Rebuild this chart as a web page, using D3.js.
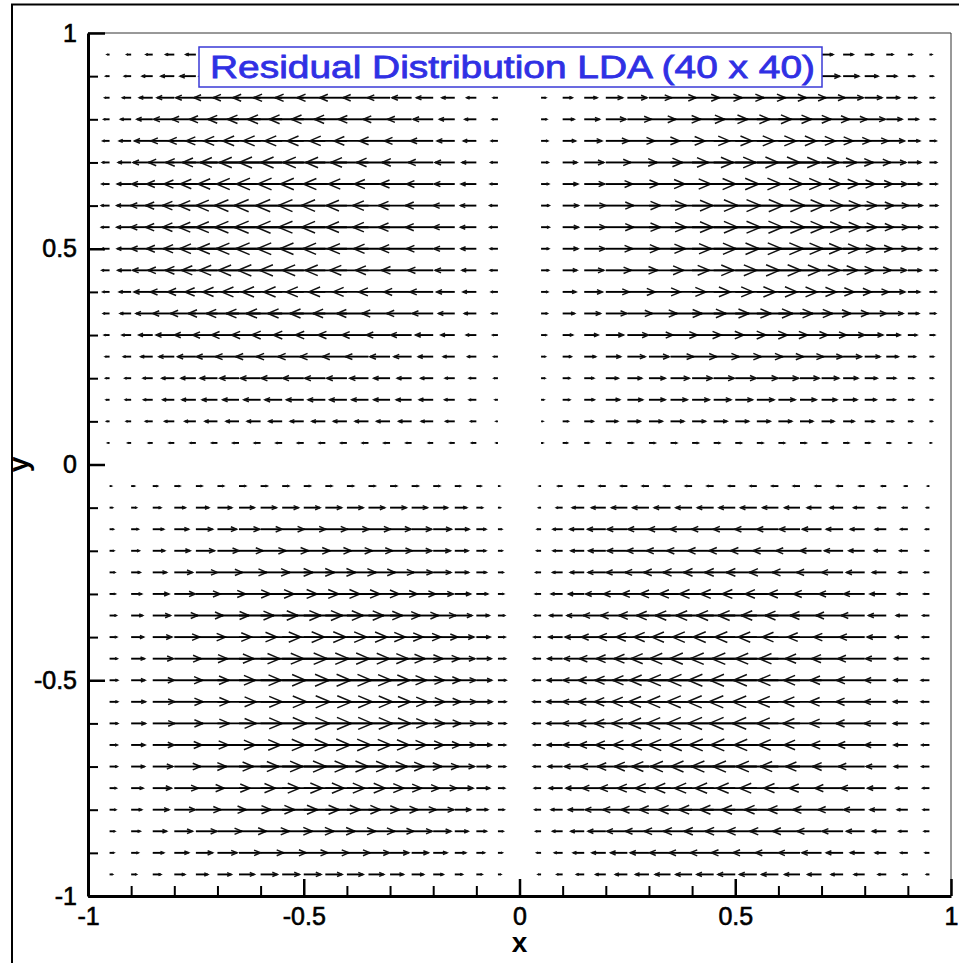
<!DOCTYPE html>
<html>
<head>
<meta charset="utf-8">
<script src="https://cdnjs.cloudflare.com/ajax/libs/d3/7.8.5/d3.min.js"></script>
<style>
body { margin:0; background:#fff; }
svg { display:block; }
</style>
</head>
<body>
<div id="chart"></div>
<script>
// grid nodes (40 x 40 cells -> interior nodes every 0.05)
var xNodes = [-0.95,-0.9,-0.85,-0.8,-0.75,-0.7,-0.65,-0.6,-0.55,-0.5,-0.45,-0.4,-0.35,-0.3,-0.25,-0.2,-0.15,-0.1,-0.05,0,
  0.05,0.1,0.15,0.2,0.25,0.3,0.35,0.4,0.45,0.5,0.55,0.6,0.65,0.7,0.75,0.8,0.85,0.9,0.95];
var yNodes = [0.95,0.9,0.85,0.8,0.75,0.7,0.65,0.6,0.55,0.5,0.45,0.4,0.35,0.3,0.25,0.2,0.15,0.1,0.05,0,
  -0.05,-0.1,-0.15,-0.2,-0.25,-0.3,-0.35,-0.4,-0.45,-0.5,-0.55,-0.6,-0.65,-0.7,-0.75,-0.8,-0.85,-0.9,-0.95];

// horizontal residual component u (x100), one row per yNodes entry, one column per xNodes entry
var uRows = [
 [-5,-9,-14,-18,-21,-24,-27,-29,-30,-30,-29,-29,-26,-23,-21,-17,-14,-10,-5,0,5,10,14,17,21,23,26,29,29,30,30,29,27,24,21,18,14,9,5],
 [-8,-14,-22,-28,-33,-38,-42,-45,-47,-47,-46,-45,-41,-37,-32,-27,-21,-16,-8,0,8,16,21,27,32,37,41,45,46,47,47,45,42,38,33,28,22,14,8],
 [-10,-18,-28,-36,-42,-49,-54,-58,-60,-60,-59,-57,-53,-47,-41,-35,-27,-20,-10,0,10,20,27,35,41,47,53,57,59,60,60,58,54,49,42,36,28,18,10],
 [-12,-22,-33,-43,-50,-58,-65,-69,-72,-72,-71,-68,-63,-56,-50,-42,-32,-24,-12,0,12,24,32,42,50,56,63,68,71,72,72,69,65,58,50,43,33,22,12],
 [-14,-25,-38,-49,-57,-66,-74,-79,-82,-82,-80,-78,-72,-64,-57,-48,-37,-27,-14,0,14,27,37,48,57,64,72,78,80,82,82,79,74,66,57,49,38,25,14],
 [-15,-27,-41,-54,-63,-73,-81,-86,-90,-90,-88,-86,-79,-70,-62,-52,-41,-30,-15,0,15,30,41,52,62,70,79,86,88,90,90,86,81,73,63,54,41,27,15],
 [-16,-29,-44,-58,-67,-78,-86,-92,-96,-96,-94,-91,-84,-75,-66,-56,-43,-32,-16,0,16,32,43,56,66,75,84,91,94,96,96,92,86,78,67,58,44,29,16],
 [-17,-30,-46,-60,-70,-81,-90,-96,-100,-100,-98,-95,-88,-78,-69,-58,-45,-33,-17,0,17,33,45,58,69,78,88,95,98,100,100,96,90,81,70,60,46,30,17],
 [-17,-30,-46,-60,-70,-81,-90,-96,-100,-99,-98,-95,-88,-78,-69,-58,-45,-33,-17,0,17,33,45,58,69,78,88,95,98,99,100,96,90,81,70,60,46,30,17],
 [-16,-29,-45,-58,-68,-79,-87,-93,-97,-97,-95,-92,-85,-76,-67,-56,-44,-32,-16,0,16,32,44,56,67,76,85,92,95,97,97,93,87,79,68,58,45,29,16],
 [-16,-28,-42,-55,-64,-75,-83,-88,-92,-92,-90,-87,-81,-72,-63,-53,-41,-30,-16,0,16,30,41,53,63,72,81,87,90,92,92,88,83,75,64,55,42,28,16],
 [-14,-25,-39,-50,-59,-68,-76,-81,-84,-84,-82,-80,-74,-66,-58,-49,-38,-28,-14,0,14,28,38,49,58,66,74,80,82,84,84,81,76,68,59,50,39,25,14],
 [-13,-23,-35,-45,-53,-61,-68,-72,-75,-75,-74,-71,-66,-59,-52,-44,-34,-25,-13,0,13,25,34,44,52,59,66,71,74,75,75,72,68,61,53,45,35,23,13],
 [-11,-19,-29,-38,-45,-52,-58,-61,-64,-64,-63,-61,-56,-50,-44,-37,-29,-21,-11,0,11,21,29,37,44,50,56,61,63,64,64,61,58,52,45,38,29,19,11],
 [-9,-16,-25,-32,-38,-44,-49,-52,-54,-54,-53,-51,-48,-42,-37,-31,-24,-18,-9,0,9,18,24,31,37,42,48,51,53,54,54,52,49,44,38,32,25,16,9],
 [-8,-13,-20,-26,-31,-36,-40,-42,-44,-44,-43,-42,-39,-34,-30,-26,-20,-15,-8,0,8,15,20,26,30,34,39,42,43,44,44,42,40,36,31,26,20,13,8],
 [-7,-12,-19,-24,-29,-32,-34,-35,-36,-36,-36,-36,-35,-34,-32,-29,-21,-15,-6,0,6,15,21,29,32,34,35,36,36,36,36,35,34,32,29,24,19,12,7],
 [-6,-10,-15,-20,-23,-26,-27,-28,-28,-28,-28,-28,-28,-28,-27,-25,-19,-12,-4,0,4,12,19,25,27,28,28,28,28,28,28,28,27,26,23,20,15,10,6],
 [-4,-7,-9,-11,-12,-12,-13,-13,-13,-13,-13,-13,-13,-13,-12,-10,-10,-10,-4,0,4,10,10,10,12,13,13,13,13,13,13,13,13,12,12,11,9,7,4],
 [0,0,0,0,0,0,0,0,0,0,0,0,0,0,0,0,0,0,0,0,0,0,0,0,0,0,0,0,0,0,0,0,0,0,0,0,0,0,0],
 [4,7,10,12,13,13,14,14,14,14,14,14,14,14,14,14,12,10,4,0,-4,-10,-12,-14,-14,-14,-14,-14,-14,-14,-14,-14,-14,-13,-13,-12,-10,-7,-4],
 [6,11,17,23,27,30,32,33,34,34,34,34,34,34,33,30,25,13,5,0,-5,-13,-25,-30,-33,-34,-34,-34,-34,-34,-34,-33,-32,-30,-27,-23,-17,-11,-6],
 [8,15,23,30,35,40,43,45,46,46,46,46,46,44,42,38,30,20,8,0,-8,-20,-30,-38,-42,-44,-46,-46,-46,-46,-46,-45,-43,-40,-35,-30,-23,-15,-8],
 [9,17,25,33,39,45,50,53,55,55,54,53,50,46,42,36,28,20,9,0,-9,-20,-28,-36,-42,-46,-50,-53,-54,-55,-55,-53,-50,-45,-39,-33,-25,-17,-9],
 [11,19,29,38,45,52,58,61,64,64,63,61,56,50,44,37,29,21,11,0,-11,-21,-29,-37,-44,-50,-56,-61,-63,-64,-64,-61,-58,-52,-45,-38,-29,-19,-11],
 [12,22,34,44,51,59,66,70,73,73,72,69,64,57,50,42,33,24,12,0,-12,-24,-33,-42,-50,-57,-64,-69,-72,-73,-73,-70,-66,-59,-51,-44,-34,-22,-12],
 [14,24,37,49,57,66,73,78,81,81,79,77,71,63,56,47,36,27,14,0,-14,-27,-36,-47,-56,-63,-71,-77,-79,-81,-81,-78,-73,-66,-57,-49,-37,-24,-14],
 [15,26,40,53,62,71,79,84,88,88,86,84,77,69,61,51,40,29,15,0,-15,-29,-40,-51,-61,-69,-77,-84,-86,-88,-88,-84,-79,-71,-62,-53,-40,-26,-15],
 [16,28,43,56,66,76,85,90,94,94,92,89,83,73,65,55,42,31,16,0,-16,-31,-42,-55,-65,-73,-83,-89,-92,-94,-94,-90,-85,-76,-66,-56,-43,-28,-16],
 [17,29,45,59,69,79,88,94,98,98,96,93,86,76,68,57,44,32,17,0,-17,-32,-44,-57,-68,-76,-86,-93,-96,-98,-98,-94,-88,-79,-69,-59,-45,-29,-17],
 [17,30,46,60,70,81,90,96,100,100,98,95,88,78,69,58,45,33,17,0,-17,-33,-45,-58,-69,-78,-88,-95,-98,-100,-100,-96,-90,-81,-70,-60,-46,-30,-17],
 [17,30,46,60,70,81,90,96,99,99,98,95,88,78,69,58,45,33,17,0,-17,-33,-45,-58,-69,-78,-88,-95,-98,-99,-99,-96,-90,-81,-70,-60,-46,-30,-17],
 [16,29,45,58,68,79,87,93,97,97,95,92,85,76,67,56,44,32,16,0,-16,-32,-44,-56,-67,-76,-85,-92,-95,-97,-97,-93,-87,-79,-68,-58,-45,-29,-16],
 [16,28,42,55,64,75,83,88,92,92,90,87,81,72,63,53,41,30,16,0,-16,-30,-41,-53,-63,-72,-81,-87,-90,-92,-92,-88,-83,-75,-64,-55,-42,-28,-16],
 [14,25,39,50,59,68,76,81,84,84,82,80,74,66,58,49,38,28,14,0,-14,-28,-38,-49,-58,-66,-74,-80,-82,-84,-84,-81,-76,-68,-59,-50,-39,-25,-14],
 [13,22,34,44,52,60,67,71,74,74,73,70,65,58,51,43,33,24,13,0,-13,-24,-33,-43,-51,-58,-65,-70,-73,-74,-74,-71,-67,-60,-52,-44,-34,-22,-13],
 [11,19,29,38,44,51,57,60,63,63,62,60,55,49,43,37,28,21,11,0,-11,-21,-28,-37,-43,-49,-55,-60,-62,-63,-63,-60,-57,-51,-44,-38,-29,-19,-11],
 [9,15,23,30,35,41,45,48,50,50,49,48,44,39,35,29,23,17,9,0,-9,-17,-23,-29,-35,-39,-44,-48,-49,-50,-50,-48,-45,-41,-35,-30,-23,-15,-9],
 [6,11,17,22,25,29,32,35,36,36,35,34,32,28,25,21,16,12,6,0,-6,-12,-16,-21,-25,-28,-32,-34,-35,-36,-36,-35,-32,-29,-25,-22,-17,-11,-6]
];

var majorTicks = [-1, -0.5, 0, 0.5, 1];
var majorLabels = ["-1", "-0.5", "0", "0.5", "1"];
var minorTicks = [-0.9,-0.8,-0.7,-0.6,-0.4,-0.3,-0.2,-0.1,0.1,0.2,0.3,0.4,0.6,0.7,0.8,0.9];
var titleText = "Residual Distribution LDA (40 x 40)";

var W = 959, H = 963;
// plot box (note: "top" is a reserved window property, so prefixed names)
var pLeft = 88, pRight = 951, pTop = 33, pBottom = 896;
var vecLen = 0.111;   // data units of x for u = 1 (100)

var svg = d3.select("#chart").append("svg")
    .attr("width", W).attr("height", H)
    .style("font-family", "'Liberation Sans', Arial, sans-serif");

svg.append("rect").attr("width", W).attr("height", H).attr("fill", "#fff");

// outer frame of the picture
svg.append("rect")
    .attr("x", 12).attr("y", 4.5).attr("width", 980).attr("height", 990)
    .attr("fill", "none").attr("stroke", "#000").attr("stroke-width", 2);

var x = d3.scaleLinear().domain([-1, 1]).range([pLeft, pRight]);
var y = d3.scaleLinear().domain([-1, 1]).range([pBottom, pTop]);

// vectors, tail at the grid node
var vecs = [];
uRows.forEach(function(row, j){
    row.forEach(function(u, i){
        if(u !== 0) vecs.push({x: xNodes[i], y: yNodes[j], u: u / 100});
    });
});

function shaftPath(d){
    var x0 = x(d.x), y0 = y(d.y);
    var x1 = x(d.x + d.u * vecLen);
    return "M" + x0 + "," + y0 + "L" + x1 + "," + y0;
}
function headPath(d){
    var x0 = x(d.x), y0 = y(d.y);
    var x1 = x(d.x + d.u * vecLen);
    var len = Math.abs(x1 - x0);
    var dir = x1 > x0 ? 1 : -1;
    var h = len * 0.3;
    var s = h * Math.tan(23 * Math.PI / 180);
    return "M" + (x1 - dir * h) + "," + (y0 - s) + "L" + x1 + "," + y0 + "L" + (x1 - dir * h) + "," + (y0 + s);
}

var arrows = svg.append("g").selectAll("g")
    .data(vecs)
    .enter()
    .append("g");
arrows.append("path")
    .attr("d", shaftPath)
    .attr("fill", "none")
    .attr("stroke", "#000")
    .attr("stroke-width", 1.9);
arrows.append("path")
    .attr("d", headPath)
    .attr("fill", "none")
    .attr("stroke", "#111")
    .attr("stroke-width", 1.5);

// thin top and right border of the plot
svg.append("line").attr("x1", pLeft).attr("x2", pRight).attr("y1", pTop).attr("y2", pTop)
    .attr("stroke", "#333").attr("stroke-width", 1);
svg.append("line").attr("x1", pRight).attr("x2", pRight).attr("y1", pTop).attr("y2", pBottom)
    .attr("stroke", "#333").attr("stroke-width", 1);

// minor ticks (inward)
svg.append("g").attr("transform", "translate(0," + pBottom + ")")
    .call(d3.axisBottom(x).tickValues(minorTicks).tickSizeInner(-10).tickSizeOuter(0).tickFormat(""))
    .call(function(g){ g.select(".domain").remove(); })
    .selectAll("line").attr("stroke-width", 2);
svg.append("g").attr("transform", "translate(" + pLeft + ",0)")
    .call(d3.axisLeft(y).tickValues(minorTicks).tickSizeInner(-10).tickSizeOuter(0).tickFormat(""))
    .call(function(g){ g.select(".domain").remove(); })
    .selectAll("line").attr("stroke-width", 2);

// major ticks and labels
var xAxis = svg.append("g").attr("transform", "translate(0," + pBottom + ")")
    .call(d3.axisBottom(x).tickValues(majorTicks).tickSizeInner(-17).tickSizeOuter(0).tickPadding(11)
        .tickFormat(function(d, i){ return majorLabels[i]; }));
var yAxis = svg.append("g").attr("transform", "translate(" + pLeft + ",0)")
    .call(d3.axisLeft(y).tickValues(majorTicks).tickSizeInner(-17).tickSizeOuter(0).tickPadding(11)
        .tickFormat(function(d, i){ return majorLabels[i]; }));

[xAxis, yAxis].forEach(function(g){
    g.select(".domain").attr("stroke-width", 3).attr("stroke", "#000");
    g.selectAll(".tick line").attr("stroke-width", 2.5).attr("stroke", "#000");
    g.selectAll(".tick text").attr("fill", "#000")
        .attr("stroke", "#000").attr("stroke-width", 0.6)
        .style("font-size", "25px").style("font-family", "'Liberation Sans', Arial, sans-serif");
});

// axis titles
svg.append("text").attr("x", x(0)).attr("y", 952).attr("text-anchor", "middle")
    .style("font-size", "28px").style("font-weight", "bold").text("x");
svg.append("text").attr("transform", "translate(28," + y(0) + ") rotate(-90)")
    .attr("text-anchor", "middle")
    .style("font-size", "28px").style("font-weight", "bold").text("y");

// title box
svg.append("rect")
    .attr("x", 199).attr("y", 47).attr("width", 623).attr("height", 40)
    .attr("fill", "#fff").attr("stroke", "#3a3ad6").attr("stroke-width", 1.5);
svg.append("text")
    .attr("x", 210).attr("y", 78)
    .attr("textLength", 605).attr("lengthAdjust", "spacingAndGlyphs")
    .attr("fill", "#3030e4").attr("stroke", "#3030e4").attr("stroke-width", 0.8)
    .style("font-size", "32px")
    .text(titleText);
</script>
</body>
</html>
